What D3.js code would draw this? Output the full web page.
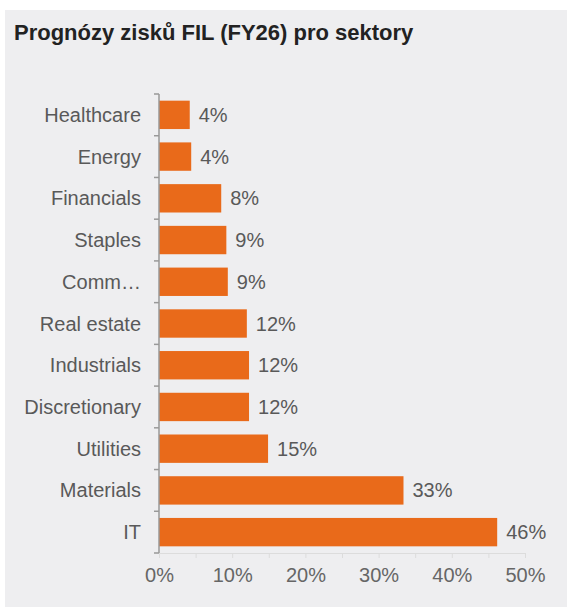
<!DOCTYPE html>
<html>
<head>
<meta charset="utf-8">
<script src="https://cdn.jsdelivr.net/npm/d3@7"></script>
<style>
	body { margin: 0; background: #fff; }
	svg { display: block; font-family: 'Liberation Sans', Arial, sans-serif; }
</style>
</head>
<body>
<div id="chart"></div>
<script>
var sectors = ['Healthcare', 'Energy', 'Financials', 'Staples', 'Comm…', 'Real estate', 'Industrials', 'Discretionary', 'Utilities', 'Materials', 'IT']
var growth = [4.2, 4.4, 8.5, 9.2, 9.4, 12.0, 12.3, 12.3, 14.9, 33.4, 46.2]
var valueLabels = ['4%', '4%', '8%', '9%', '9%', '12%', '12%', '12%', '15%', '33%', '46%']
var xTicks = [0, 10, 20, 30, 40, 50]

function createChart() {
	let width = 567
	let height = 607
	let margin = { top: 94, left: 159, right: 42, bottom: 54 }

	const svg = d3.select('#chart').append('svg')
		.attr('width', width)
		.attr('height', height)

	// panel background
	svg.append('rect')
		.attr('x', 5)
		.attr('y', 10)
		.attr('width', width - 5)
		.attr('height', height - 10)
		.attr('fill', '#eeeef0')

	svg.append('text')
		.attr('x', 14)
		.attr('y', 40)
		.attr('font-size', '22px')
		.attr('font-weight', 'bold')
		.attr('fill', '#222')
		.text('Prognózy zisků FIL (FY26) pro sektory')

	var data = sectors.map((d, i) => ({ name: d, value: growth[i], label: valueLabels[i] }))

	var x = d3.scaleLinear()
		.domain([0, 50])
		.range([margin.left, width - margin.right])

	var y = d3.scaleBand()
		.domain(sectors)
		.range([margin.top, height - margin.bottom])
		.paddingInner(0.32)
		.paddingOuter(0.16)

	// x axis with minor ticks every 5%
	var xAxis = svg.append('g')
		.attr('transform', `translate(0,${height - margin.bottom})`)
		.call(d3.axisBottom(x).tickValues(d3.range(0, 51, 5)).tickSize(5).tickFormat(d => xTicks.includes(d) ? d + '%' : ''))
	xAxis.select('.domain').attr('stroke', '#dcdcdc')
	xAxis.selectAll('.tick line').attr('stroke', '#dcdcdc')
	xAxis.selectAll('.tick text')
		.attr('font-size', '20px')
		.attr('font-family', 'Liberation Sans, Arial, sans-serif')
		.attr('fill', '#666')
		.attr('dy', '1.05em')

	// bars
	svg.selectAll('.bar')
		.data(data)
		.enter()
		.append('rect')
		.attr('class', 'bar')
		.attr('x', x(0))
		.attr('y', d => y(d.name))
		.attr('width', d => x(d.value) - x(0))
		.attr('height', y.bandwidth())
		.attr('fill', '#e96a1a')

	// y axis: line with ticks at band edges
	var step = y.step()
	var edges = d3.range(sectors.length + 1).map(i => margin.top + i * step)
	svg.append('line')
		.attr('x1', x(0)).attr('x2', x(0))
		.attr('y1', margin.top).attr('y2', height - margin.bottom)
		.attr('stroke', '#999')
		.attr('stroke-width', 1.5)
	svg.selectAll('.ytick')
		.data(edges)
		.enter()
		.append('line')
		.attr('class', 'ytick')
		.attr('x1', x(0) - 5).attr('x2', x(0))
		.attr('y1', d => d).attr('y2', d => d)
		.attr('stroke', '#999')
		.attr('stroke-width', 1.5)

	// category labels
	svg.selectAll('.cat')
		.data(data)
		.enter()
		.append('text')
		.attr('class', 'cat')
		.attr('x', x(0) - 18)
		.attr('y', d => y(d.name) + y.bandwidth() / 2)
		.attr('dy', '0.35em')
		.attr('text-anchor', 'end')
		.attr('font-size', '20px')
		.attr('fill', '#595959')
		.text(d => d.name)

	// value labels
	svg.selectAll('.val')
		.data(data)
		.enter()
		.append('text')
		.attr('class', 'val')
		.attr('x', d => x(d.value) + 9)
		.attr('y', d => y(d.name) + y.bandwidth() / 2)
		.attr('dy', '0.35em')
		.attr('font-size', '20px')
		.attr('fill', '#595959')
		.text(d => d.label)
}

createChart()
</script>
</body>
</html>
